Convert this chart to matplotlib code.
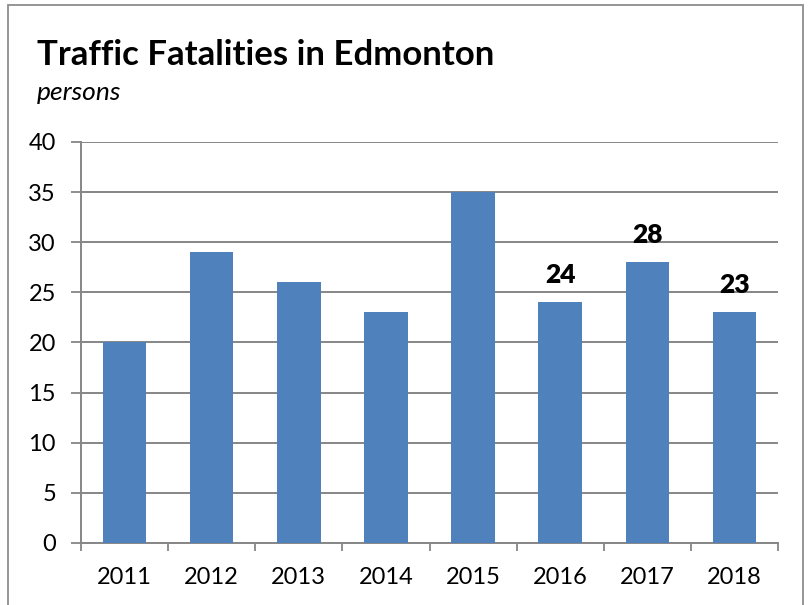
import matplotlib
matplotlib.use('Agg')
import matplotlib.pyplot as plt
from matplotlib.patches import Rectangle

years = ['2011', '2012', '2013', '2014', '2015', '2016', '2017', '2018']
deaths = [20, 29, 26, 23, 35, 24, 28, 23]
labelled = ['2016', '2017', '2018']
yticks = [0, 5, 10, 15, 20, 25, 30, 35, 40]

plt.rcParams['font.family'] = ['Lato', 'DejaVu Sans']

bar_color = '#4F81BD'
grid_color = '#868686'

fig = plt.figure(figsize=(8.1, 6.05), dpi=100)
ax = fig.add_axes([0.1, 0.1025, 0.8605, 0.6628])

x = list(range(len(years)))
bars = ax.bar(x, deaths, width=0.5, color=bar_color, zorder=3)

for i, (yr, v) in enumerate(zip(years, deaths)):
    if yr in labelled:
        ax.annotate(str(v), (i, v), xytext=(0, 14), textcoords='offset points',
                    ha='center', va='baseline', fontsize=19, fontweight='heavy')

ax.set_xlim(-0.5, len(years) - 0.5)
ax.set_ylim(0, 40)
ax.set_yticks(yticks)
ax.set_yticklabels([str(t) for t in yticks], fontsize=17)
ax.set_xticks(x)
ax.set_xticklabels(years, fontsize=17)
ax.tick_params(axis='x', length=0, pad=17)
ax.tick_params(axis='y', length=7, width=1.3, color=grid_color, pad=11)
# category boundary ticks
ax.set_xticks([i - 0.5 for i in range(len(years) + 1)], minor=True)
ax.tick_params(axis='x', which='minor', length=6, width=1.3, color=grid_color)

ax.yaxis.grid(True, color=grid_color, linewidth=1.4, zorder=0)
ax.set_axisbelow(True)
for side in ['top', 'right']:
    ax.spines[side].set_visible(False)
for side in ['left', 'bottom']:
    ax.spines[side].set_color(grid_color)
    ax.spines[side].set_linewidth(1.4)

fig.text(0.0457, 0.893, 'Traffic Fatalities in Edmonton', fontsize=25,
         fontweight='bold', ha='left', va='baseline')
fig.text(0.0457, 0.835, 'persons', fontsize=19, style='italic',
         ha='left', va='baseline')

# chart frame
fig.patches.append(Rectangle((8 / 810, -0.02), (803 - 8) / 810, 1.02 - 5 / 605,
                             transform=fig.transFigure, fill=False,
                             edgecolor='#8C8C8C', linewidth=1.3))

fig.savefig('out.png', dpi=100)
plt.close(fig)
